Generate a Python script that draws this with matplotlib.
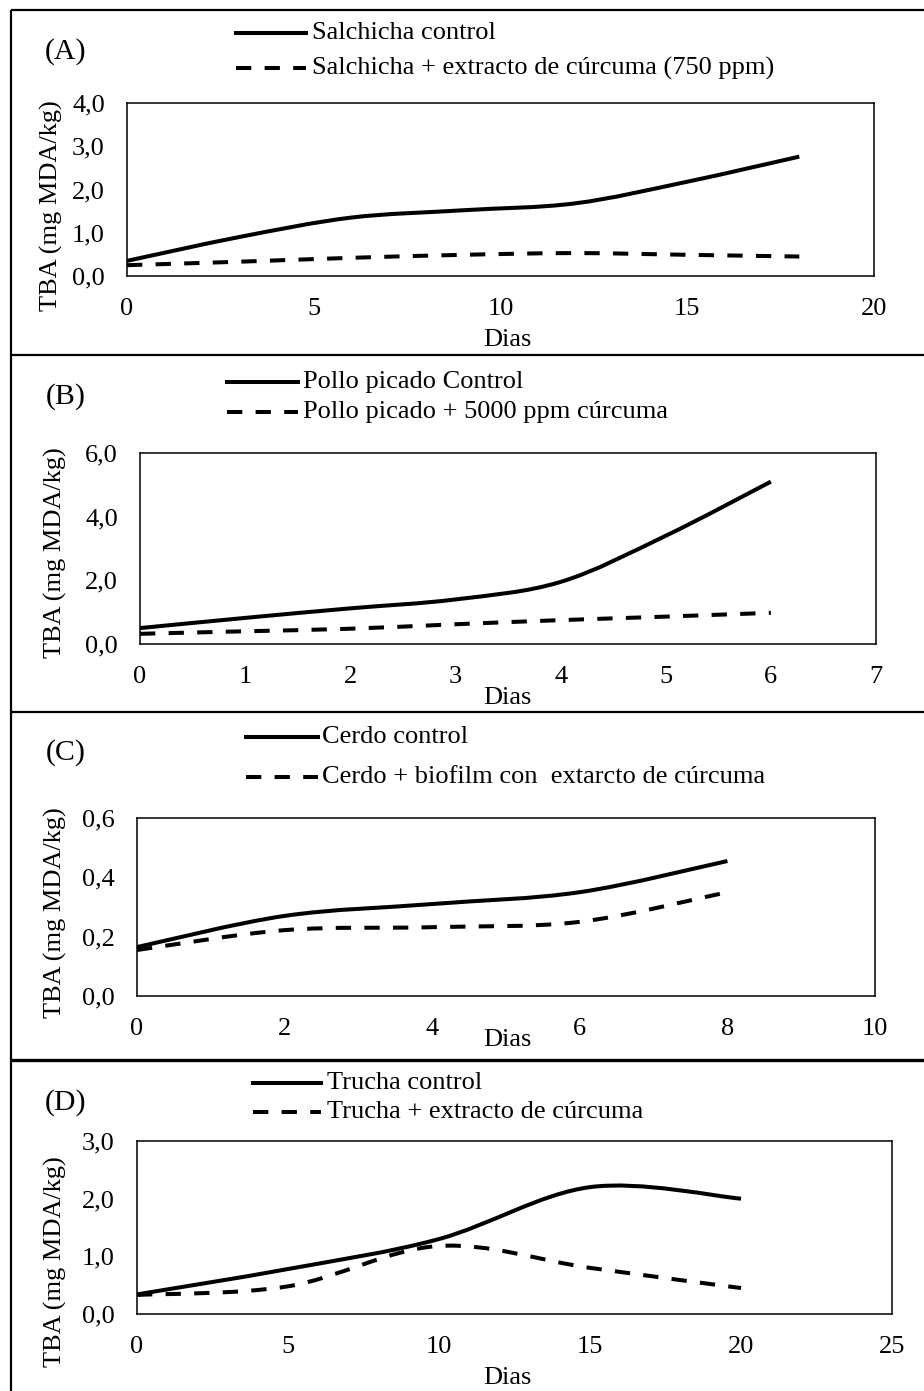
import matplotlib
matplotlib.use('Agg')
import matplotlib.pyplot as plt
from matplotlib.lines import Line2D
from matplotlib.patches import PathPatch
from matplotlib.path import Path

plt.rcParams['font.family'] = ['Liberation Serif', 'DejaVu Serif']
plt.rcParams['font.size'] = 19

# ---- data ----
a_days = [0, 3, 6, 9, 12, 15, 18]
a_control = [0.35, 0.90, 1.35, 1.52, 1.68, 2.18, 2.76]
a_curcuma = [0.25, 0.33, 0.42, 0.49, 0.53, 0.49, 0.45]

b_days = [0, 1, 2, 3, 4, 5, 6]
b_control = [0.50, 0.82, 1.12, 1.40, 1.95, 3.40, 5.10]
b_curcuma = [0.32, 0.40, 0.48, 0.62, 0.75, 0.86, 0.98]

c_days = [0, 2, 4, 6, 8]
c_control = [0.165, 0.270, 0.310, 0.350, 0.455]
c_curcuma = [0.155, 0.222, 0.232, 0.250, 0.350]

d_days = [0, 5, 10, 15, 20]
d_control = [0.34, 0.78, 1.30, 2.20, 2.00]
d_curcuma = [0.33, 0.48, 1.18, 0.80, 0.45]

a_labels = ['Salchicha control', 'Salchicha + extracto de cúrcuma (750 ppm)']
b_labels = ['Pollo picado Control', 'Pollo picado + 5000 ppm cúrcuma']
c_labels = ['Cerdo control', 'Cerdo + biofilm con  extarcto de cúrcuma']
d_labels = ['Trucha control', 'Trucha + extracto de cúrcuma']

a_xticks = [0, 5, 10, 15, 20]
b_xticks = [0, 1, 2, 3, 4, 5, 6, 7]
c_xticks = [0, 2, 4, 6, 8, 10]
d_xticks = [0, 5, 10, 15, 20, 25]
a_yticks = [0.0, 1.0, 2.0, 3.0, 4.0]
b_yticks = [0.0, 2.0, 4.0, 6.0]
c_yticks = [0.0, 0.2, 0.4, 0.6]
d_yticks = [0.0, 1.0, 2.0, 3.0]

W, H = 924, 1391
DASH = (0, (3.8, 3.3))
LW = 2.9
FS = 19


def fx(px):
    return px / W


def fy(py):
    return 1 - py / H


def smooth_path(x, y):
    # Excel style smoothed line: cubic bezier with Catmull-Rom control points
    pts = list(zip(x, y))
    verts = [pts[0]]
    codes = [Path.MOVETO]
    n = len(pts)
    for i in range(n - 1):
        p0 = pts[max(i - 1, 0)]
        p1 = pts[i]
        p2 = pts[i + 1]
        p3 = pts[min(i + 2, n - 1)]
        c1 = (p1[0] + (p2[0] - p0[0]) / 6, p1[1] + (p2[1] - p0[1]) / 6)
        c2 = (p2[0] - (p3[0] - p1[0]) / 6, p2[1] - (p3[1] - p1[1]) / 6)
        verts += [c1, c2, p2]
        codes += [Path.CURVE4] * 3
    return Path(verts, codes)


def comma(v, nd=1):
    return f'{v:.{nd}f}'.replace('.', ',')


fig = plt.figure(figsize=(W / 100, H / 100), dpi=100)

panels = [
    dict(tag='(A)', box=(127, 874, 103, 276), days=a_days, ctrl=a_control, cur=a_curcuma,
         labels=a_labels, xt=a_xticks, yt=a_yticks,
         leg=(236, 306, 312, 33, 68), tagpos=(66, 52), ylab=(51, 206), xlab=(507, 340)),
    dict(tag='(B)', box=(140, 876, 453, 644), days=b_days, ctrl=b_control, cur=b_curcuma,
         labels=b_labels, xt=b_xticks, yt=b_yticks,
         leg=(227, 298, 303, 382, 412), tagpos=(66, 397), ylab=(55, 553), xlab=(507, 698)),
    dict(tag='(C)', box=(137, 875, 818, 996), days=c_days, ctrl=c_control, cur=c_curcuma,
         labels=c_labels, xt=c_xticks, yt=c_yticks,
         leg=(246, 318, 322, 737, 777), tagpos=(66, 753), ylab=(55, 913), xlab=(507, 1040)),
    dict(tag='(D)', box=(137, 892, 1141, 1314), days=d_days, ctrl=d_control, cur=d_curcuma,
         labels=d_labels, xt=d_xticks, yt=d_yticks,
         leg=(253, 321, 327, 1083, 1112), tagpos=(66, 1103), ylab=(55, 1262), xlab=(507, 1378)),
]

for p in panels:
    l, r, t, b = p['box']
    ax = fig.add_axes([fx(l), fy(b), (r - l) / W, (b - t) / H])
    for y, ls in ((p['ctrl'], '-'), (p['cur'], DASH)):
        ax.add_patch(PathPatch(smooth_path(p['days'], y), fill=False, edgecolor='black',
                               lw=LW, linestyle=ls, capstyle='butt', joinstyle='round'))
    ax.set_xlim(p['xt'][0], p['xt'][-1])
    ax.set_ylim(p['yt'][0], p['yt'][-1])
    ax.set_xticks(p['xt'])
    ax.set_xticklabels([str(v) for v in p['xt']])
    ax.set_yticks(p['yt'])
    ax.set_yticklabels([comma(v) for v in p['yt']])
    ax.tick_params(length=0, pad=16, labelsize=FS)
    for s in ax.spines.values():
        s.set_linewidth(1.1)

    # legend drawn in figure space, like the Excel layout
    x0, x1, xt, y0, y1 = p['leg']
    for yy, ls, lab in ((y0, '-', p['labels'][0]), (y1, DASH, p['labels'][1])):
        fig.add_artist(Line2D([fx(x0), fx(x1)], [fy(yy), fy(yy)], transform=fig.transFigure,
                              color='black', lw=LW, linestyle=ls, dash_capstyle='butt'))
        fig.text(fx(xt), fy(yy), lab, ha='left', va='center', fontsize=FS)

    fig.text(fx(p['tagpos'][0]), fy(p['tagpos'][1]), p['tag'], ha='center', va='center', fontsize=21.5)
    fig.text(fx(p['ylab'][0]), fy(p['ylab'][1]), 'TBA (mg MDA/kg)', rotation=90,
             ha='center', va='center', fontsize=FS)
    fig.text(fx(p['xlab'][0]), fy(p['xlab'][1]), 'Dias', ha='center', va='center', fontsize=FS)

# panel frames
frame = dict(transform=fig.transFigure, color='black', solid_capstyle='butt')
fig.add_artist(Line2D([fx(11), fx(11)], [fy(10), 0], lw=1.6, **frame))
fig.add_artist(Line2D([fx(11), 1], [fy(10), fy(10)], lw=1.6, **frame))
fig.add_artist(Line2D([fx(11), 1], [fy(355), fy(355)], lw=1.6, **frame))
fig.add_artist(Line2D([fx(11), 1], [fy(712), fy(712)], lw=1.6, **frame))
fig.add_artist(Line2D([fx(11), 1], [fy(1060), fy(1060)], lw=2.4, **frame))

fig.savefig('out.png', dpi=100)
